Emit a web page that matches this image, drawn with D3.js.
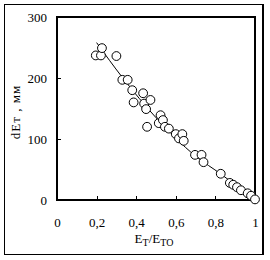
<!DOCTYPE html>
<html>
<head>
<meta charset="utf-8">
<script src="https://cdn.jsdelivr.net/npm/d3@7"></script>
<style>
  body { margin: 0; background: #fff; }
  text { font-family: "Liberation Serif", "Times New Roman", serif; fill: #000; }
</style>
</head>
<body>
<div id="chart"></div>
<script>
// measured points: relative energy vs dEt (mm)
const ratio = [0.196, 0.222, 0.227, 0.30, 0.33, 0.357, 0.38, 0.387, 0.435, 0.44, 0.472, 0.45, 0.455,
  0.514, 0.523, 0.535, 0.545, 0.565, 0.60, 0.616, 0.633, 0.64, 0.697, 0.73, 0.74,
  0.827, 0.873, 0.89, 0.909, 0.929, 0.963, 0.98, 1.0]
const dEt = [237, 237, 249, 236, 197, 197, 180, 160, 175, 158, 164, 149, 120,
  126, 139, 131, 120, 117, 108, 101, 108, 97, 74, 74, 62,
  43, 28, 25, 21, 16, 11, 7, 1]

// fitted curve
const fitX = [0.2, 0.33, 0.5, 0.7, 0.83, 1.0]
const fitY = [258, 201, 135, 72, 42, 0]

const xTicks = [0, 0.2, 0.4, 0.6, 0.8, 1]
const yTicks = [0, 100, 200, 300]

const width = 270
const height = 260
const margin = { left: 57, top: 17, right: 15, bottom: 60 }

const fmt = d => d === 0 || d === 1 ? String(d) : String(d).replace(".", ",")

const svg = d3.select("#chart").append("svg")
    .attr("width", width)
    .attr("height", height)

const x = d3.scaleLinear().domain([0, 1]).range([margin.left, width - margin.right])
const y = d3.scaleLinear().domain([0, 300]).range([height - margin.bottom, margin.top])

// outer frame
svg.append("rect")
    .attr("x", 4.5).attr("y", 4.5)
    .attr("width", 258.5).attr("height", 250)
    .attr("fill", "none").attr("stroke", "#000").attr("stroke-width", 1.2)
    .attr("shape-rendering", "crispEdges")

// plot box
svg.append("rect")
    .attr("x", x(0)).attr("y", y(300))
    .attr("width", x(1) - x(0)).attr("height", y(0) - y(300))
    .attr("fill", "none").attr("stroke", "#000").attr("stroke-width", 1.2)
    .attr("shape-rendering", "crispEdges")

const xAxis = svg.append("g")
    .attr("transform", `translate(0,${y(0)})`)
    .call(d3.axisBottom(x).tickValues(xTicks).tickSizeInner(-4).tickSizeOuter(0).tickPadding(18).tickFormat(fmt))
xAxis.select(".domain").remove()
xAxis.selectAll("line").attr("shape-rendering", "crispEdges")
xAxis.selectAll("text").style("font-size", "13px")

const yAxis = svg.append("g")
    .attr("transform", `translate(${x(0)},0)`)
    .call(d3.axisLeft(y).tickValues(yTicks).tickSizeInner(-4).tickSizeOuter(0).tickPadding(10).tickFormat(d3.format("d")))
yAxis.select(".domain").remove()
yAxis.selectAll("line").attr("shape-rendering", "crispEdges")
yAxis.selectAll("text").style("font-size", "13px")

// fitted line
const line = d3.line()
    .x(d => x(d[0]))
    .y(d => y(d[1]))
    .curve(d3.curveMonotoneX)

svg.append("path")
    .datum(fitX.map((v, i) => [v, fitY[i]]))
    .attr("d", line)
    .attr("fill", "none")
    .attr("stroke", "#000")
    .attr("stroke-width", 1)

svg.append("g")
  .selectAll("circle")
  .data(ratio.map((v, i) => [v, dEt[i]]))
  .join("circle")
    .attr("cx", d => x(d[0]))
    .attr("cy", d => y(d[1]))
    .attr("r", 4.4)
    .attr("fill", "#fff")
    .attr("stroke", "#000")
    .attr("stroke-width", 1)

// x title
const xt = svg.append("text")
    .attr("x", 154).attr("y", 243)
    .attr("text-anchor", "middle")
    .style("font-size", "13px")
xt.append("tspan").text("E")
xt.append("tspan").text("T").attr("dy", 3).style("font-size", "10px")
xt.append("tspan").text("/E").attr("dy", -3)
xt.append("tspan").text("TO").attr("dy", 3).style("font-size", "10px")

// y title
svg.append("text")
    .attr("transform", "translate(20,112) rotate(-90)")
    .attr("text-anchor", "middle")
    .style("font-size", "13px")
    .style("letter-spacing", "1px")
    .text("dEт , мм")
</script>
</body>
</html>
